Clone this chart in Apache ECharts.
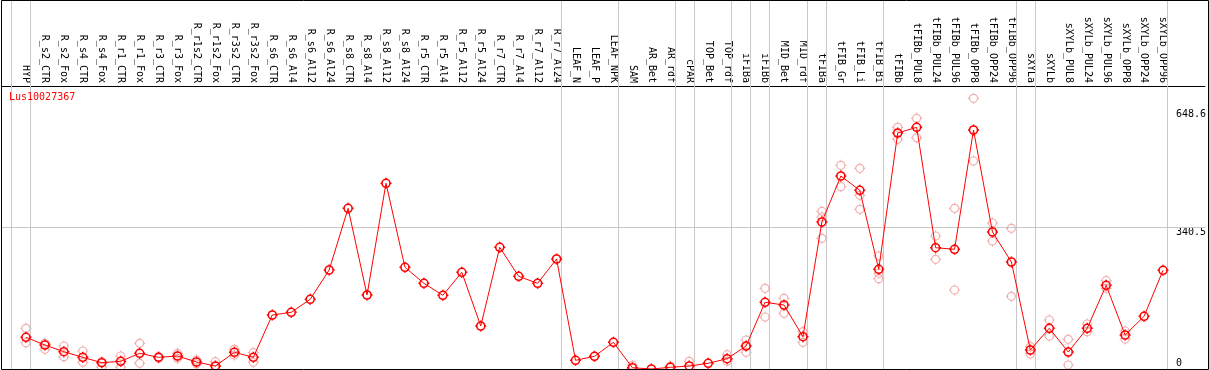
<!DOCTYPE html>
<html>
<head>
<meta charset="utf-8">
<script src="https://cdn.jsdelivr.net/npm/echarts@6/dist/echarts.min.js"></script>
<style>
html,body{margin:0;padding:0;background:#fff;}
#c{width:1209px;height:370px;}
</style>
</head>
<body>
<div id="c"></div>
<script>
const title = 'Lus10027367';
const categories = ['HYP','R_s2_CTR','R_s2_Fox','R_s4_CTR','R_s4_Fox','R_r1_CTR','R_r1_Fox','R_r3_CTR','R_r3_Fox','R_r1s2_CTR','R_r1s2_Fox','R_r3s2_CTR','R_r3s2_Fox','R_s6_CTR','R_s6_Al4','R_s6_Al12','R_s6_Al24','R_s8_CTR','R_s8_Al4','R_s8_Al12','R_s8_Al24','R_r5_CTR','R_r5_Al4','R_r5_Al12','R_r5_Al24','R_r7_CTR','R_r7_Al4','R_r7_Al12','R_r7_Al24','LEAF_N','LEAF_P','LEAF_NPK','SAM','AR_Bet','AR_rdf','cPAR','TOP_Bet','TOP_rdf','iFIBa','iFIBb','MID_Bet','MID_rdf','tFIBa','tFIB_Gr','tFIB_Li','tFIB_Bi','tFIBb','tFIBb_PUL8','tFIBb_PUL24','tFIBb_PUL96','tFIBb_OPP8','tFIBb_OPP24','tFIBb_OPP96','sXYLa','sXYLb','sXYLb_PUL8','sXYLb_PUL24','sXYLb_PUL96','sXYLb_OPP8','sXYLb_OPP24','sXYLb_OPP96'];
const meanValues = [55.6,35.6,18.2,3.6,-10.4,-6.8,14,3.6,7,-8.6,-19,16.6,3.6,113.5,120.5,154.3,230.4,390.6,165.5,455.6,237.4,195.8,164.7,224.4,84.9,289.4,214,195.8,259,-4.2,6.2,42.6,-23.4,-26.8,-22.3,-19,-12,0,33,146.5,139.5,57.1,355.1,474.5,437.4,232.2,586.2,601,288.3,284.2,594,329.1,251.2,22.6,79,17.4,79,190.6,61.6,110.1,229.6];
const rep1 = [79,40,33,20,-7.8,7,40,5.2,14,-3.4,-7.8,24.4,15.6,null,null,null,null,null,null,null,null,null,null,null,null,null,null,null,null,null,null,null,-17,null,-19,-6.8,null,10.4,48.6,182.9,156.9,70.1,382.9,502.3,494.5,266.8,601,624.4,318.7,390.6,676.4,352.5,338.7,31.2,100.5,50.4,90.1,202.6,71.9,null,null];
const rep2 = [41.6,24.4,5.2,-9.4,-22,-22.3,-12,1.8,1,-13.8,-20.8,9.6,-9.4,null,null,null,null,null,null,null,null,null,null,null,null,null,null,null,null,null,null,null,null,null,null,null,null,-6.8,16.6,108.3,117.9,42.6,312.7,446.8,424.4,207.8,569.9,574,258.2,178.4,513.5,305.7,162.1,12.2,59,-16.4,70.1,182.9,51.2,null,null];
const rep3 = [null,null,null,null,null,null,null,null,null,null,null,null,null,null,null,null,null,null,null,null,null,null,null,null,null,null,null,null,null,null,null,null,null,null,null,null,null,null,null,null,null,null,368,null,388,222,null,null,null,null,null,null,null,null,null,null,null,null,null,null,null];
const yTickValues = [0, 340.5, 648.6];
const yGridValues = [340.5];
const groupEnds = [-1, 0, 28, 31, 34, 35, 37, 38, 39, 41, 42, 45, 52, 53, 60];

const FONT = 'DejaVu Sans Mono';
const marker = 'path://M2,6C2,3.79,3.79,2,6,2C8.21,2,10,3.79,10,6C10,8.21,8.21,10,6,10C3.79,10,2,8.21,2,6ZM6,0.5L6,2M6,10L6,11.5M0.5,6L2,6M10,6L11.5,6';
const toPts = arr => arr.map((v, i) => v == null ? null : [i, v]).filter(Boolean);

const chart = echarts.init(document.getElementById('c'), null, {renderer: 'canvas'});
const repSeries = [rep1, rep2, rep3].map(r => ({
  type: 'scatter',
  data: toPts(r),
  symbol: marker,
  symbolSize: 11,
  symbolKeepAspect: true,
  itemStyle: {color: 'rgba(0,0,0,0)', borderColor: '#ee9a9a', borderWidth: 1.2},
  z: 3,
  silent: true
}));

chart.setOption({
  animation: false,
  grid: {left: 2, right: 1, top: 1, bottom: 1, containLabel: false},
  xAxis: {
    type: 'value',
    position: 'top',
    offset: -85,
    min: -1.263,
    max: 62.21,
    axisLine: {show: true, onZero: false, lineStyle: {color: '#000', width: 1}},
    axisTick: {show: false},
    splitLine: {show: false},
    axisLabel: {
      customValues: categories.map((c, i) => i),
      formatter: v => categories[Math.round(v)] || '',
      rotate: 90,
      margin: 3,
      color: '#000',
      fontFamily: FONT,
      fontSize: 10
    }
  },
  yAxis: {
    type: 'value',
    position: 'right',
    min: -26.75,
    max: 929.09,
    axisLine: {show: false},
    axisTick: {show: false},
    splitLine: {show: false},
    axisLabel: {
      customValues: yTickValues,
      formatter: v => String(v),
      align: 'left',
      verticalAlign: 'top',
      margin: -29,
      color: '#000',
      fontFamily: FONT,
      fontSize: 10
    }
  },
  series: [
    {
      type: 'line',
      data: [],
      silent: true,
      z: 1,
      markLine: {
        silent: true,
        symbol: 'none',
        animation: false,
        label: {show: false},
        lineStyle: {color: '#c8c8c8', type: 'solid', width: 1},
        emphasis: {disabled: true},
        data: groupEnds.map(k => ({xAxis: k + 0.24})).concat(yGridValues.map(v => ({yAxis: v})))
      }
    },
    ...repSeries,
    {
      type: 'line',
      data: toPts(meanValues),
      symbol: marker,
      symbolSize: 11,
      symbolKeepAspect: true,
      showAllSymbol: true,
      lineStyle: {color: '#ff0000', width: 1},
      itemStyle: {color: 'rgba(0,0,0,0)', borderColor: '#ff0000', borderWidth: 1.6},
      z: 5,
      silent: true
    }
  ],
  graphic: [
    {type: 'rect', shape: {x: 1.5, y: 0.5, width: 1207, height: 369}, style: {fill: 'none', stroke: '#000', lineWidth: 1}, z: 100, silent: true},
    {type: 'text', x: 9, y: 97.5, style: {text: title, fill: '#ff0000', font: '10px "' + FONT + '"', verticalAlign: 'middle', align: 'left'}, z: 100, silent: true}
  ]
});
</script>
</body>
</html>
